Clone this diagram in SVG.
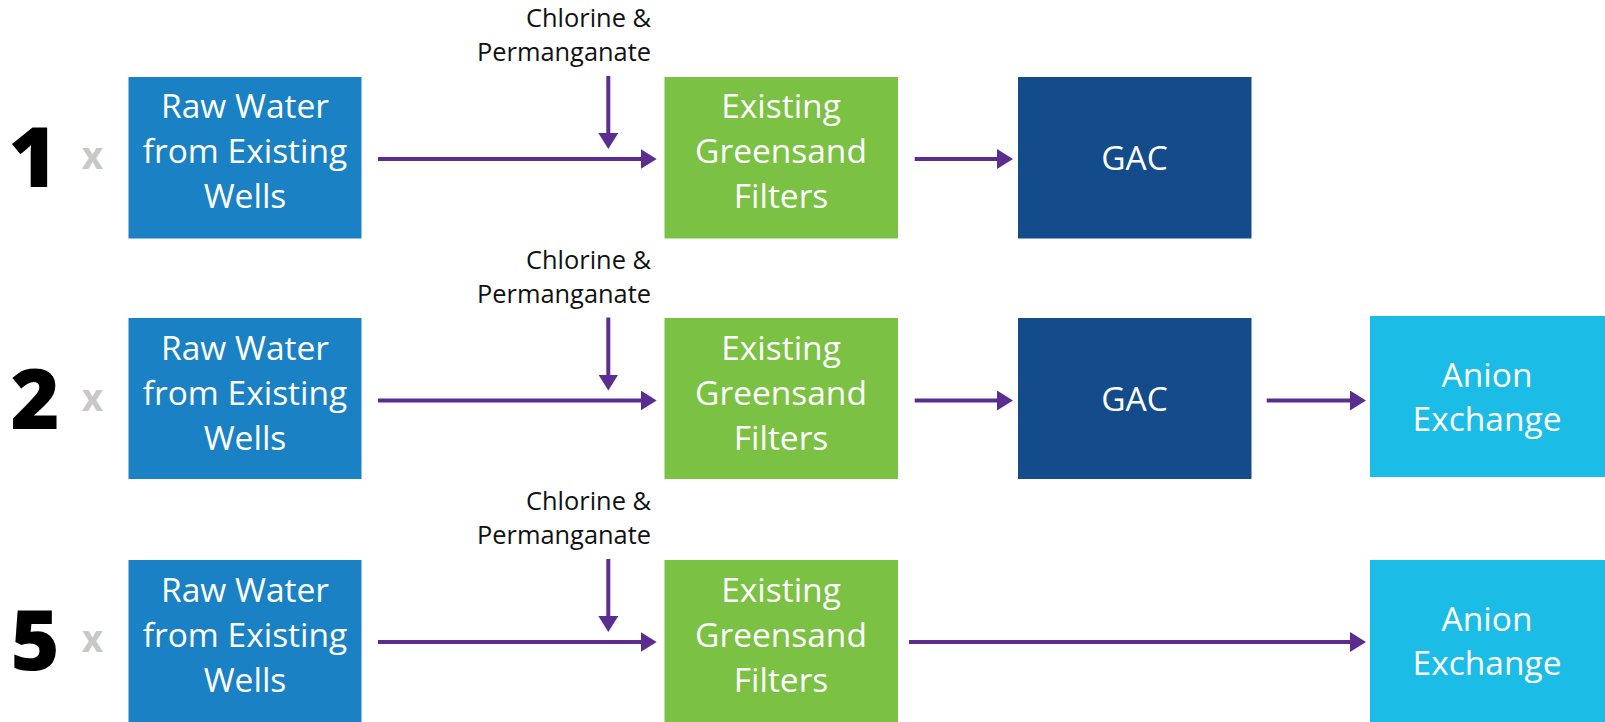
<svg xmlns="http://www.w3.org/2000/svg" width="1605" height="722" viewBox="0 0 1605 722">
<defs>
<style>
.raw{fill:#1a82c4}
.green{fill:#7bc143}
.gac{fill:#144b8a}
.anion{fill:#1bbde6}
.bt{font-family:"Open Sans","Noto Sans",sans-serif;font-size:33.5px;fill:#ffffff;text-anchor:middle}
.chem{font-family:"Open Sans","Noto Sans",sans-serif;font-size:25.4px;fill:#111111;text-anchor:end}
.num{font-family:"Open Sans","Noto Sans",sans-serif;font-size:84px;font-weight:800;fill:#000000;text-anchor:middle}
.mult{font-family:"Open Sans","Noto Sans",sans-serif;font-size:37px;font-weight:700;fill:#c8c8c8;text-anchor:middle}
.conn{stroke:#5c2d91;stroke-width:4;fill:none;marker-end:url(#ah)}
</style>
<marker id="ah" markerUnits="userSpaceOnUse" viewBox="0 0 16 20" refX="6" refY="10" markerWidth="16" markerHeight="20" orient="auto">
<path d="M0,0 L16,10 L0,20 Z" fill="#5c2d91"/>
</marker>
</defs>
<rect width="1605" height="722" fill="#ffffff"/>

<g id="labels">
<text class="num" x="33" y="187">1</text>
<text class="mult" x="92.5" y="169">x</text>
<text class="num" x="35" y="428.5">2</text>
<text class="mult" x="92.5" y="410.5">x</text>
<text class="num" x="35" y="670">5</text>
<text class="mult" x="92.5" y="652">x</text>
</g>

<g id="row1">
<g id="raw1"><rect class="raw" x="128.5" y="77" width="233" height="161.5"/>
<text class="bt" x="245" y="118.3">Raw Water</text><text class="bt" x="245" y="163.3">from Existing</text><text class="bt" x="245" y="208.3">Wells</text></g>
<g id="chem1"><text class="chem" x="651" y="27.3">Chlorine &amp;</text><text class="chem" x="651" y="61">Permanganate</text></g>
<g id="green1"><rect class="green" x="664.5" y="77" width="233.5" height="161.5"/>
<text class="bt" x="781" y="118.3">Existing</text><text class="bt" x="781" y="163.3">Greensand</text><text class="bt" x="781" y="208.3">Filters</text></g>
<g id="gac1"><rect class="gac" x="1018" y="77" width="233.5" height="161.5"/>
<text class="bt" x="1134.5" y="170">GAC</text></g>
</g>

<g id="row2">
<g id="raw2"><rect class="raw" x="128.5" y="318" width="233" height="161"/>
<text class="bt" x="245" y="359.5">Raw Water</text><text class="bt" x="245" y="404.5">from Existing</text><text class="bt" x="245" y="449.5">Wells</text></g>
<g id="chem2"><text class="chem" x="651" y="268.5">Chlorine &amp;</text><text class="chem" x="651" y="302.5">Permanganate</text></g>
<g id="green2"><rect class="green" x="664.5" y="318" width="233.5" height="161"/>
<text class="bt" x="781" y="359.5">Existing</text><text class="bt" x="781" y="404.5">Greensand</text><text class="bt" x="781" y="449.5">Filters</text></g>
<g id="gac2"><rect class="gac" x="1018" y="318" width="233.5" height="161"/>
<text class="bt" x="1134.5" y="411">GAC</text></g>
<g id="anion2"><rect class="anion" x="1370" y="316" width="235" height="161"/>
<text class="bt" x="1487" y="387">Anion</text><text class="bt" x="1487" y="431">Exchange</text></g>
</g>

<g id="row3">
<g id="raw3"><rect class="raw" x="128.5" y="560" width="233" height="162"/>
<text class="bt" x="245" y="601.5">Raw Water</text><text class="bt" x="245" y="646.5">from Existing</text><text class="bt" x="245" y="691.5">Wells</text></g>
<g id="chem3"><text class="chem" x="651" y="510">Chlorine &amp;</text><text class="chem" x="651" y="544">Permanganate</text></g>
<g id="green3"><rect class="green" x="664.5" y="560" width="233.5" height="162"/>
<text class="bt" x="781" y="601.5">Existing</text><text class="bt" x="781" y="646.5">Greensand</text><text class="bt" x="781" y="691.5">Filters</text></g>
<g id="anion3"><rect class="anion" x="1370" y="560" width="235" height="162"/>
<text class="bt" x="1487" y="631">Anion</text><text class="bt" x="1487" y="675">Exchange</text></g>
</g>

<g id="connectors">
<line class="conn" x1="378" y1="159" x2="646.7" y2="159"/>
<line class="conn" x1="608.3" y1="76" x2="608.3" y2="139"/>
<line class="conn" x1="914.7" y1="159" x2="1003" y2="159"/>

<line class="conn" x1="378" y1="400.5" x2="646.7" y2="400.5"/>
<line class="conn" x1="608.3" y1="317.5" x2="608.3" y2="380.5"/>
<line class="conn" x1="914.7" y1="400.5" x2="1003" y2="400.5"/>
<line class="conn" x1="1266.7" y1="400.5" x2="1356" y2="400.5"/>

<line class="conn" x1="378" y1="642" x2="646.7" y2="642"/>
<line class="conn" x1="608.3" y1="559" x2="608.3" y2="622"/>
<line class="conn" x1="909" y1="642" x2="1356" y2="642"/>
</g>
</svg>
